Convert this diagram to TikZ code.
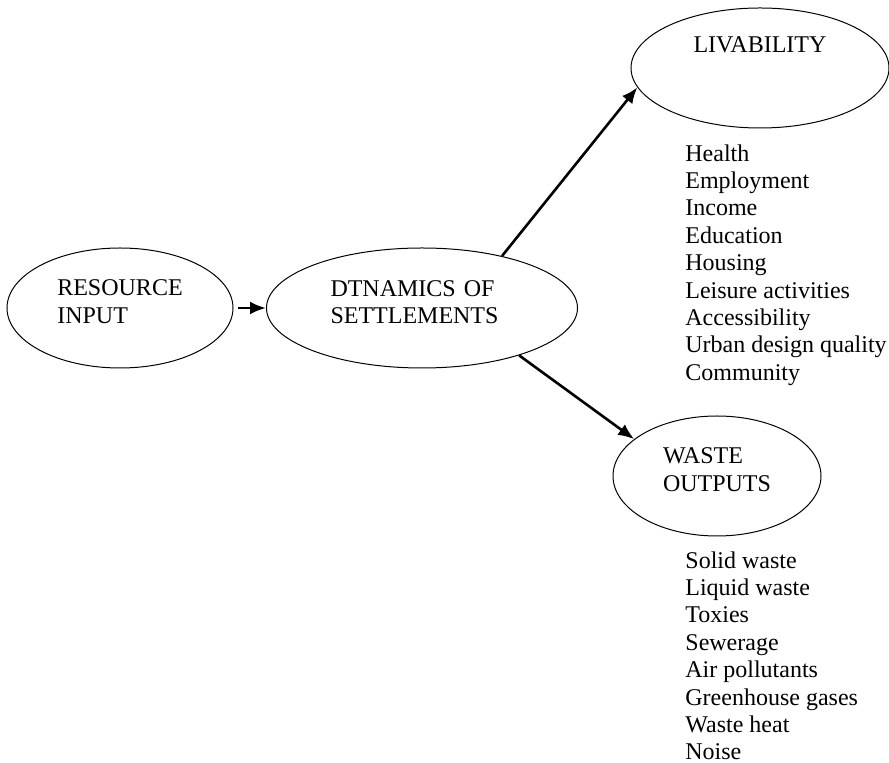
\documentclass[tikz,border=0pt]{standalone}
\usepackage{fontspec}
\setmainfont{Liberation Serif}
\usetikzlibrary{arrows.meta,positioning,shapes.geometric}

\begin{document}
\begin{tikzpicture}[
    x=0.5pt, y=-0.5pt,
    font=\fontsize{12}{13.7}\selectfont,
    stage/.style={draw, ellipse, line width=0.5pt, align=left, inner sep=0pt, minimum height=60pt, text depth=6.5pt},
    itemlist/.style={align=left, inner sep=0pt, anchor=north west},
    arrow/.style={-{Latex[length=8pt, width=6.5pt]}, line width=1.3pt}
]
\useasboundingbox (0,0) rectangle (889,763);

\node[stage, minimum width=113pt] (input) at (120,308) {RESOURCE\\INPUT};
\node[stage, minimum width=155.5pt, text width=91.5pt, text depth=19.5pt] (dynamics) at (422,308) {DTNAMICS OF\\SETTLEMENTS};
\node[stage, minimum width=129pt, text depth=3pt] (livability) at (760,68) {LIVABILITY\\[7pt]~};
\node[stage, minimum width=104pt] (waste) at (717,476) {WASTE\\OUTPUTS};

\node[itemlist] (livlist) at (685,144) {Health\\Employment\\Income\\Education\\Housing\\Leisure activities\\Accessibility\\Urban design quality\\Community};
\node[itemlist] (wastelist) at (685,551) {Solid waste\\Liquid waste\\Toxies\\Sewerage\\Air pollutants\\Greenhouse gases\\Waste heat\\Noise};

\draw[arrow, shorten <=2pt] (input) -- (dynamics);
\draw[arrow] (dynamics.33.5) -- (livability.189);
\draw[arrow] (dynamics.-26) -- (waste.156);
\end{tikzpicture}
\end{document}
